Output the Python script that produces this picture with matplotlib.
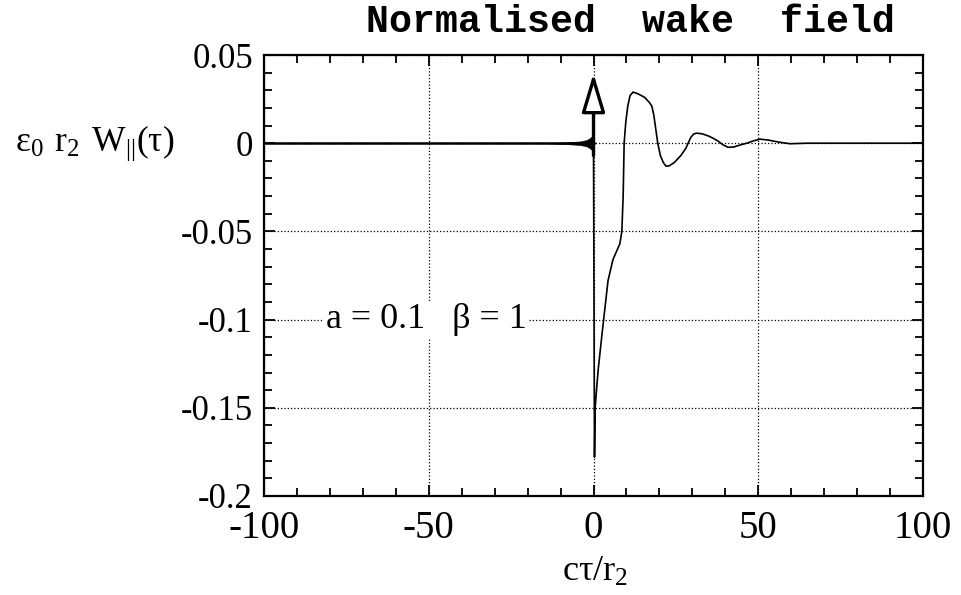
import numpy as np
import matplotlib
matplotlib.use("Agg")
import matplotlib.pyplot as plt

# ---- data ----
# flat pre-wake part (tau < 0)
x_pre = [-100, -14, 0]
y_pre = [0.0, 0.0, 0.0]

# ringing "blob" just before tau = 0 : half-thickness envelope
x_blob = [-14, -8, -4, -2, -1, -0.3, 0]
h_blob = [0.0, 0.0005, 0.001, 0.0018, 0.003, 0.0042, 0.0045]

# wake after tau = 0
x_wake = [0, 0.3, 0.5, 1.0, 1.5, 2.6, 3.5, 4.4, 5.9, 7.3, 8.0, 8.6, 9.0, 9.3, 9.8,
          10.4, 11.1, 12.0, 13.5, 15.5, 17.0, 17.7, 18.3, 18.9, 19.5, 20.3, 21.2,
          22.0, 23.0, 24.5, 26.5, 28.0, 28.7, 29.6, 30.5, 31.4, 33.0, 35.0, 36.3,
          37.8, 39.2, 40.8, 42.5, 44.5, 46.5, 48.5, 50.5, 53.0, 56.0, 59.6, 65.0,
          100.0]
y_wake = [0.0, -0.178, -0.150, -0.138, -0.127, -0.108, -0.093, -0.078, -0.066,
          -0.060, -0.057, -0.050, -0.030, 0.0, 0.012, 0.021, 0.027, 0.029, 0.028,
          0.026, 0.023, 0.021, 0.016, 0.008, 0.0, -0.007, -0.011, -0.013, -0.0128,
          -0.011, -0.007, -0.003, 0.0, 0.0035, 0.0053, 0.0057, 0.0053, 0.0040,
          0.0028, 0.0012, -0.0008, -0.0023, -0.0022, -0.0010, 0.0, 0.0013, 0.0023,
          0.0018, 0.0007, -0.0003, 0.0, 0.0]

# delta function at tau = 0 (arrow)
delta_x = 0.0
delta_top = 0.0395
delta_bottom = -0.007

xticks = [-100, -50, 0, 50, 100]
xticklabels = ["-100", "-50", "0", "50", "100"]
yticks = [0.05, 0, -0.05, -0.1, -0.15, -0.2]
yticklabels = ["0.05", "0", "-0.05", "-0.1", "-0.15", "-0.2"]

plt.rcParams["font.family"] = ["Liberation Serif", "DejaVu Serif"]
plt.rcParams["mathtext.fontset"] = "custom"
plt.rcParams["mathtext.rm"] = "Liberation Serif"
plt.rcParams["axes.unicode_minus"] = False

W, H = 961, 595
fig = plt.figure(figsize=(W / 100, H / 100), dpi=100)
ax = fig.add_axes([264 / W, 1 - 496 / H, (923 - 264) / W, (496 - 55) / H])

ax.plot(x_pre, y_pre, color="black", lw=1.8)
ax.fill_between(x_blob, [-h for h in h_blob], h_blob, color="black", lw=0.5)
ax.plot(x_wake, y_wake, color="black", lw=1.2)

ax.annotate("", xy=(delta_x, delta_top), xytext=(delta_x, delta_bottom),
            arrowprops=dict(arrowstyle="-|>,head_length=2.4,head_width=0.72",
                            mutation_scale=10, lw=2.4, fc="white", ec="black",
                            shrinkA=0, shrinkB=0))

ax.set_xlim(-100, 100)
ax.set_ylim(-0.2, 0.05)
ax.set_xticks(xticks)
ax.set_xticklabels(xticklabels)
ax.set_yticks(yticks)
ax.set_yticklabels(yticklabels)
ax.set_xticks(np.arange(-100, 101, 10), minor=True)
ax.set_yticks(np.arange(-0.2, 0.051, 0.01), minor=True)
ax.tick_params(which="both", direction="in", top=True, right=True, width=1.3)
ax.tick_params(axis="x", labelsize=28, pad=10)
ax.tick_params(axis="y", labelsize=25, pad=8)
ax.tick_params(which="major", length=8)
ax.tick_params(which="minor", length=6)
ax.grid(True, which="major", color="black", ls=":", lw=0.9)
for s in ax.spines.values():
    s.set_linewidth(1.6)

ax.text(-50.8, -0.1, "a = 0.1   β = 1", fontsize=26, ha="center", va="center",
        bbox=dict(fc="white", ec="none", pad=1))

fig.text(15 / W, 1 - 143 / H, r"$\mathregular{ε_0\ r_2\ W_{||}(τ)}$",
         fontsize=25.5, ha="left", va="center")
fig.text(595 / W, 1 - 572 / H, r"$\mathregular{cτ/r_2}$",
         fontsize=26, ha="center", va="center")
fig.text(630 / W, 1 - 22 / H, "Normalised  wake  field", fontsize=27.5,
         family=["Liberation Mono", "DejaVu Sans Mono"], weight="bold",
         ha="center", va="center")

fig.savefig("out.png", dpi=100)
